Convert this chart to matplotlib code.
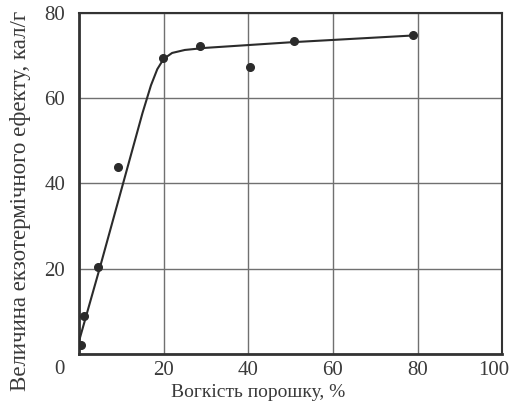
import matplotlib
matplotlib.use("Agg")
import matplotlib.pyplot as plt
import matplotlib.transforms as mtransforms

plt.rcParams['font.family'] = ['Liberation Serif', 'DejaVu Serif']

# measured points
moisture = [0.5, 1.2, 4.6, 9.3, 19.9, 28.5, 40.4, 50.8, 79.0]
heat = [2.2, 9.0, 20.5, 43.8, 69.5, 72.3, 67.3, 73.5, 74.7]

# fitted curve
curve_x = [0, 5, 10, 15, 17, 18.5, 20, 22, 25, 30, 50, 79]
curve_y = [3, 20.5, 38.5, 56.5, 63.0, 66.8, 69.2, 70.6, 71.3, 71.8, 73.1, 74.7]

xticks = [0, 20, 40, 60, 80, 100]
xlabels = ['', '20', '40', '60', '80', '100']  # the corner "0" is shared with the y axis
yticks = [0, 20, 40, 60, 80]

fig = plt.figure(figsize=(5.13, 4.15), dpi=100)
ax = fig.add_axes([0.154, 0.147, 0.825, 0.822])

ax.plot(curve_x, curve_y, color="#2b2b2b", lw=1.5, zorder=3)
ax.plot(moisture, heat, 'o', color="#2b2b2b", ms=5.5, zorder=4)

ax.set_xlim(0, 100)
ax.set_ylim(0, 80)
ax.set_xticks(xticks, xlabels)
ax.set_yticks(yticks)
ax.grid(True, color="#707070", lw=1.0)
ax.set_axisbelow(True)
ax.tick_params(length=0, labelsize=15, colors="#3a3a3a")
ax.tick_params(axis='x', pad=5)
ax.tick_params(axis='y', pad=10)

# last x label sits a bit left so it stays inside the picture
last = ax.get_xticklabels()[-1]
last.set_transform(last.get_transform() + mtransforms.ScaledTranslation(-8 / 100, 0, fig.dpi_scale_trans))
# corner zero drops below the axis line
zero = ax.get_yticklabels()[0]
zero.set_transform(zero.get_transform() + mtransforms.ScaledTranslation(0, -13 / 100, fig.dpi_scale_trans))

for side in ['left', 'bottom']:
    ax.spines[side].set_linewidth(2.0)
for side in ['top', 'right']:
    ax.spines[side].set_linewidth(1.5)
for s in ax.spines.values():
    s.set_color("#333333")

ax.set_xlabel("Вогкість порошку, %", fontsize=14, color="#3a3a3a")
ax.xaxis.set_label_coords(0.423, -0.088)
ax.set_ylabel("Величина екзотермічного ефекту, кал/г", fontsize=16.5, color="#3a3a3a")
ax.yaxis.set_label_coords(-0.113, 0.449)

fig.savefig("out.png", dpi=100)
